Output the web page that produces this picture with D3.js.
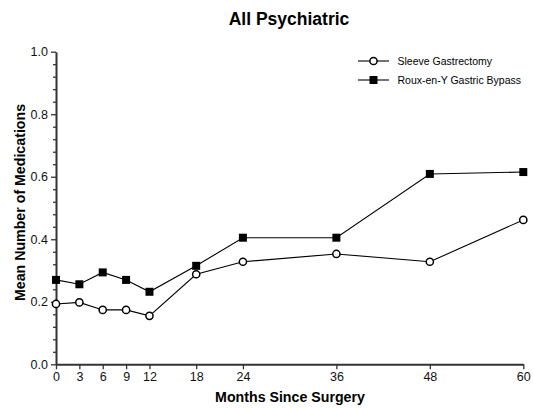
<!DOCTYPE html>
<html><head><meta charset="utf-8">
<script src="https://cdn.jsdelivr.net/npm/d3@7"></script>
<style>body{margin:0;background:#fff;} text{font-family:"Liberation Sans",Arial,sans-serif;}</style>
</head><body>
<svg id="chart" width="534" height="409"></svg>
<script>
const months = [0, 3, 6, 9, 12, 18, 24, 36, 48, 60];
const sleeveValues = [0.193, 0.198, 0.174, 0.174, 0.155, 0.288, 0.328, 0.353, 0.328, 0.462];
const rygbValues = [0.270, 0.256, 0.294, 0.270, 0.232, 0.315, 0.405, 0.405, 0.609, 0.615];
const yTicks = [0.0, 0.2, 0.4, 0.6, 0.8, 1.0];
const seriesNames = ["Sleeve Gastrectomy", "Roux-en-Y Gastric Bypass"];
const title = "All Psychiatric";
const xTitle = "Months Since Surgery";
const yTitle = "Mean Number of Medications";

const svg = d3.select("#chart");
const x = d3.scaleLinear().domain([0, 60]).range([56, 523.3]);
const y = d3.scaleLinear().domain([0, 1]).range([364.3, 51.7]);

const axisColor = "#333";
// y axis
const yAxis = svg.append("g").attr("transform", "translate(56,0)")
  .call(d3.axisLeft(y).tickValues(yTicks).tickFormat(d3.format(".1f")).tickSize(5).tickSizeOuter(0));
const yMinor = d3.range(0, 1.0001, 0.04).filter(v => Math.abs(v*5 - Math.round(v*5)) > 1e-6);
svg.append("g").attr("transform", "translate(56,0)")
  .call(d3.axisLeft(y).tickValues(yMinor).tickFormat("").tickSize(3).tickSizeOuter(0))
  .call(g => g.select(".domain").remove());
// x axis
const xAxis = svg.append("g").attr("transform", "translate(0,364.3)")
  .call(d3.axisBottom(x).tickValues(months).tickFormat(d3.format("d")).tickSize(5).tickSizeOuter(0));
svg.selectAll(".domain").attr("stroke", axisColor).attr("stroke-width", 2);
svg.selectAll(".tick line").attr("stroke", axisColor).attr("stroke-width", 1.3);
svg.selectAll(".tick text").attr("font-size", 12.5).attr("fill", "#111")
  .attr("font-family", "'Liberation Sans',Arial,sans-serif");
yAxis.selectAll(".tick text").attr("x", -8);
xAxis.selectAll(".tick text").attr("y", 8);

const line = d3.line().x((d, i) => x(months[i])).y(d => y(d));
svg.append("path").datum(rygbValues).attr("d", line).attr("fill", "none").attr("stroke", "#000").attr("stroke-width", 1.1);
svg.append("path").datum(sleeveValues).attr("d", line).attr("fill", "none").attr("stroke", "#000").attr("stroke-width", 1.1);
svg.selectAll(".sq").data(rygbValues).enter().append("rect")
  .attr("x", (d, i) => x(months[i]) - 4).attr("y", d => y(d) - 4)
  .attr("width", 8).attr("height", 8).attr("fill", "#000");
svg.selectAll(".ci").data(sleeveValues).enter().append("circle")
  .attr("cx", (d, i) => x(months[i])).attr("cy", d => y(d)).attr("r", 3.6)
  .attr("fill", "#fff").attr("stroke", "#000").attr("stroke-width", 1.5);

// legend
const lg = svg.append("g");
[0, 1].forEach(i => {
  const ly = 61 + i * 19;
  lg.append("line").attr("x1", 358).attr("x2", 389).attr("y1", ly).attr("y2", ly).attr("stroke", "#000").attr("stroke-width", 1.1);
  if (i === 0) lg.append("circle").attr("cx", 373.5).attr("cy", ly).attr("r", 3.6).attr("fill", "#fff").attr("stroke", "#000").attr("stroke-width", 1.5);
  else lg.append("rect").attr("x", 369.5).attr("y", ly - 4).attr("width", 8).attr("height", 8).attr("fill", "#000");
  lg.append("text").attr("x", 397.5).attr("y", ly + 4).attr("font-size", 10.5).text(seriesNames[i]);
});

// titles
svg.append("text").attr("x", 289).attr("y", 25).attr("text-anchor", "middle")
  .attr("font-size", 17.5).attr("font-weight", "bold").text(title);
svg.append("text").attr("x", 290).attr("y", 402).attr("text-anchor", "middle")
  .attr("font-size", 14.2).attr("font-weight", "bold").text(xTitle);
svg.append("text").attr("transform", "translate(25,202.5) rotate(-90)").attr("text-anchor", "middle")
  .attr("font-size", 14.2).attr("font-weight", "bold").text(yTitle);
</script>
</body></html>
